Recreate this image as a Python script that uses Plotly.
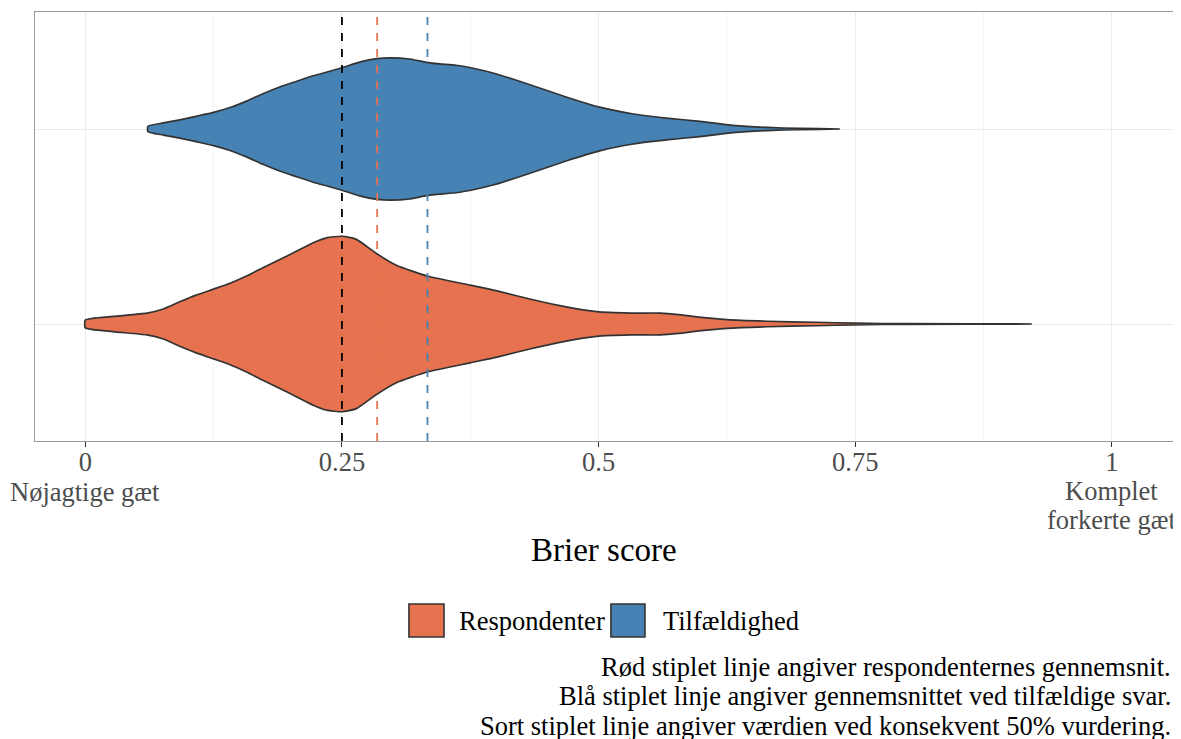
import plotly.graph_objects as go

# ---------------- data ----------------
categories = ["Respondenter", "Tilfældighed"]
category_pos = [1, 2]

# violin outline of "Respondenter": brier score and half-width (category units)
resp_x = [0.000, 0.027, 0.060, 0.076, 0.092, 0.108, 0.125, 0.141, 0.157, 0.173,
          0.190, 0.206, 0.222, 0.235, 0.250, 0.264, 0.284, 0.303, 0.333, 0.375,
          0.401, 0.433, 0.466, 0.498, 0.531, 0.560, 0.578, 0.592, 0.608, 0.625,
          0.664, 0.712, 0.750, 0.800, 0.922]
resp_hw = [0.020, 0.039, 0.056, 0.077, 0.114, 0.148, 0.179, 0.209, 0.246, 0.289,
           0.332, 0.374, 0.417, 0.442, 0.450, 0.434, 0.360, 0.301, 0.246, 0.199,
           0.170, 0.128, 0.090, 0.063, 0.056, 0.056, 0.048, 0.039, 0.030, 0.022,
           0.014, 0.009, 0.004, 0.0015, 0.000]

# violin outline of "Tilfældighed"
rand_x = [0.061, 0.076, 0.092, 0.108, 0.125, 0.141, 0.157, 0.173, 0.190, 0.206,
          0.222, 0.238, 0.250, 0.268, 0.284, 0.297, 0.316, 0.332, 0.345, 0.361,
          0.380, 0.398, 0.417, 0.436, 0.469, 0.501, 0.534, 0.566, 0.599, 0.631,
          0.664, 0.696, 0.735]
rand_hw = [0.014, 0.031, 0.047, 0.065, 0.085, 0.110, 0.143, 0.181, 0.217, 0.245,
           0.273, 0.296, 0.314, 0.344, 0.361, 0.365, 0.359, 0.342, 0.334, 0.327,
           0.309, 0.286, 0.255, 0.222, 0.163, 0.112, 0.077, 0.056, 0.039, 0.019,
           0.008, 0.003, 0.000]

mean_resp = 0.2843
mean_rand = 0.3333
const_50 = 0.25

tick_vals = [0, 0.25, 0.5, 0.75, 1]
tick_text = ["0", "0.25", "0.5", "0.75", "1"]
end_label_low = ["Nøjagtige gæt"]
end_label_high = ["Komplet", "forkerte gæt"]
minor_vals = [0.125, 0.375, 0.625, 0.875]

caption_lines = [
    "Rød stiplet linje angiver respondenternes gennemsnit.",
    "Blå stiplet linje angiver gennemsnittet ved tilfældige svar.",
    "Sort stiplet linje angiver værdien ved konsekvent 50% vurdering.",
]

# ---------------- style ----------------
COL_RESP = "#E7724F"
COL_RAND = "#4682B4"
OUTLINE = "#333333"
FONT = "Liberation Serif"
TXT = 26.5
TICK_COL = "#4D4D4D"

fig = go.Figure()


def violin(xs, hws, center, color, name):
    px = list(xs) + list(reversed(xs))
    py = [center + h for h in hws] + [center - h for h in reversed(hws)]
    px.append(xs[0])
    py.append(center + hws[0])
    fig.add_trace(go.Scatter(
        x=px, y=py, mode="lines", fill="toself", fillcolor=color,
        line=dict(color=OUTLINE, width=1.7, shape="spline", smoothing=0.5),
        name=name, showlegend=False, hoverinfo="skip"))


violin(resp_x, resp_hw, category_pos[0], COL_RESP, categories[0])
violin(rand_x, rand_hw, category_pos[1], COL_RAND, categories[1])

# dashed reference lines
for xv, col in [(const_50, "#000000"), (mean_resp, COL_RESP), (mean_rand, COL_RAND)]:
    fig.add_shape(type="line", xref="x", yref="paper", x0=xv, x1=xv, y0=0, y1=1,
                  line=dict(color=col, width=1.8, dash="8px,8px"), layer="above")

# extra tick-label lines at the ends of the axis
fig.add_annotation(xref="x", yref="paper", x=tick_vals[0], y=-0.119, text=end_label_low[0],
                   showarrow=False, xanchor="center", yanchor="middle",
                   font=dict(family=FONT, size=TXT, color=TICK_COL))
for txt, yy in zip(end_label_high, [-0.117, -0.183]):
    fig.add_annotation(xref="x", yref="paper", x=tick_vals[-1], y=yy, text=txt,
                       showarrow=False, xanchor="center", yanchor="middle",
                       font=dict(family=FONT, size=TXT, color=TICK_COL))

# manual legend (large square keys)
legend_items = [
    (categories[0], COL_RESP, 0.3286, 0.3594, 0.3708),
    (categories[1], COL_RAND, 0.5061, 0.5360, 0.5501),
]
for name, col, x0, x1, xt in legend_items:
    fig.add_shape(type="rect", xref="paper", yref="paper", x0=x0, x1=x1,
                  y0=-0.457, y1=-0.380, fillcolor=col,
                  line=dict(color=OUTLINE, width=1.6))
    fig.add_annotation(xref="paper", yref="paper", x=xt, y=-0.4196, text=name,
                       showarrow=False, xanchor="left", yanchor="middle",
                       font=dict(family=FONT, size=TXT, color="#000000"))

# axis title
fig.add_annotation(xref="paper", yref="paper", x=0.5, y=-0.254, text="Brier score",
                   showarrow=False, xanchor="center", yanchor="middle",
                   font=dict(family=FONT, size=33, color="#000000"))

# caption lines
cap_y = [-0.5268, -0.5944, -0.6643]
for txt, yy in zip(caption_lines, cap_y):
    fig.add_annotation(xref="paper", yref="paper", x=1.0, y=yy, text=txt,
                       showarrow=False, xanchor="right", yanchor="middle",
                       font=dict(family=FONT, size=TXT, color="#000000"))

# page body has an 8px margin: size / margins compensate so the plot lands where the reference has it
fig.update_layout(
    width=1173, height=731,
    margin=dict(l=27, r=8, t=4, b=298, autoexpand=False),
    paper_bgcolor="white", plot_bgcolor="white",
    font=dict(family=FONT, size=TXT, color=TICK_COL),
    showlegend=False,
)
fig.update_xaxes(
    range=[-0.049, 1.0595], tickvals=tick_vals, ticktext=tick_text,
    ticks="outside", ticklen=5, tickwidth=1.2, tickcolor=OUTLINE,
    ticklabelstandoff=-8,
    tickfont=dict(family=FONT, size=TXT, color=TICK_COL),
    showgrid=True, gridcolor="#EBEBEB", gridwidth=1.3,
    minor=dict(tickvals=minor_vals, showgrid=True, gridcolor="#F4F4F4", gridwidth=0.8),
    showline=True, mirror=True, linecolor="#9A9A9A", linewidth=1.2,
    zeroline=False, automargin=False,
)
fig.update_yaxes(
    range=[0.4, 2.6], tickvals=category_pos, showticklabels=False, ticks="",
    showgrid=True, gridcolor="#EBEBEB", gridwidth=1.3,
    showline=True, mirror=True, linecolor="#9A9A9A", linewidth=1.2,
    zeroline=False, automargin=False,
)

fig.write_html("out.html")
